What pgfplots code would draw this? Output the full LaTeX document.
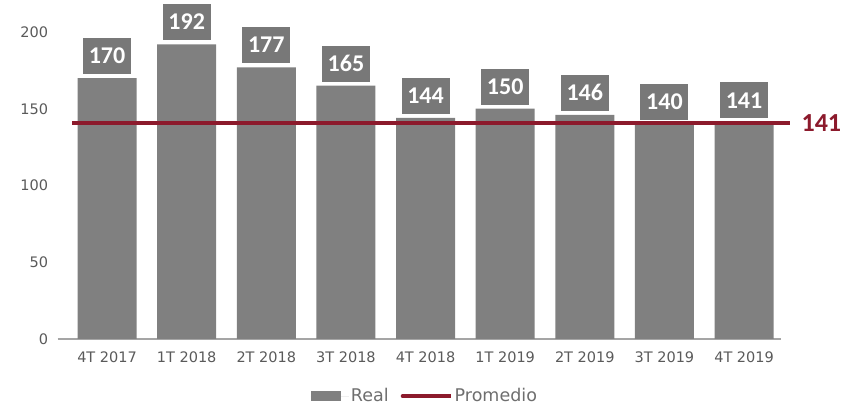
\documentclass[border=0pt]{standalone}
\usepackage{pgfplots}
\pgfplotsset{compat=1.18}
\usepackage{fontspec}
\setmainfont{DejaVu Sans}
\newfontfamily\carlito{Carlito}
\definecolor{barGray}{RGB}{128,128,128}
\definecolor{boxGray}{RGB}{120,120,120}
\definecolor{promRed}{RGB}{140,26,44}
\definecolor{tickGray}{RGB}{90,90,90}
\definecolor{legGray}{RGB}{110,110,110}
\definecolor{axGray}{RGB}{165,165,165}
\begin{document}
\begin{tikzpicture}
\begin{axis}[
  at={(57.7pt,67pt)}, anchor=south west,
  scale only axis, width=723pt, height=307pt,
  xmin=-0.62, xmax=8.46, ymin=0, ymax=200,
  clip=false,
  ybar, bar width=59pt,
  separate axis lines,
  axis x line*=bottom, axis y line*=left,
  y axis line style={draw=none},
  x axis line style={-, draw=axGray, line width=1.8pt},
  major tick length=0pt,
  xtick={0,...,8},
  xticklabels={4T 2017,1T 2018,2T 2018,3T 2018,4T 2018,1T 2019,2T 2019,3T 2019,4T 2019},
  ytick={0,50,100,150,200},
  /pgf/number format/assume math mode=true,
  xticklabel style={font=\fontsize{14.5}{15}\selectfont, text=tickGray, yshift=-9pt},
  yticklabel style={font=\fontsize{14.5}{15}\selectfont, text=tickGray, xshift=-6pt},
  legend style={draw=none, fill=none, at={(0.508,-0.186)}, anchor=center,
    font=\fontsize{17.5}{19}\selectfont, text=legGray,
    /tikz/every even column/.append style={column sep=10pt}},
  legend columns=2,
]
\addplot[fill=barGray, draw=none,
  nodes near coords,
  nodes near coords style={font=\carlito\bfseries\fontsize{24}{24}\selectfont, text=white,
    fill=boxGray, minimum width=48pt, minimum height=36pt, inner sep=0pt,
    anchor=south, yshift=4pt},
  legend image code/.code={\fill[barGray] (0pt,-5pt) rectangle (30pt,5pt); \path (0pt,0pt) -- (38pt,0pt);}]
  coordinates {(0,170) (1,192) (2,177) (3,165) (4,144) (5,150) (6,146) (7,140) (8,141)};
\addlegendentry{Real}
\addplot[sharp plot, draw=promRed, line width=4pt, mark=none,
  legend image code/.code={\draw[promRed,line width=4pt,line cap=round] (0pt,0pt) -- (38pt,0pt); \path (0pt,0pt) -- (48pt,0pt);}]
  coordinates {(-0.44,141) (8.58,141)}
  node[pos=1, anchor=west, xshift=6pt, text=promRed, font=\carlito\bfseries\fontsize{26}{26}\selectfont] {141};
\addlegendentry{Promedio}
\end{axis}
\pgfresetboundingbox
\path[use as bounding box] (0,0) rectangle (843pt,406pt);
\end{tikzpicture}
\end{document}
